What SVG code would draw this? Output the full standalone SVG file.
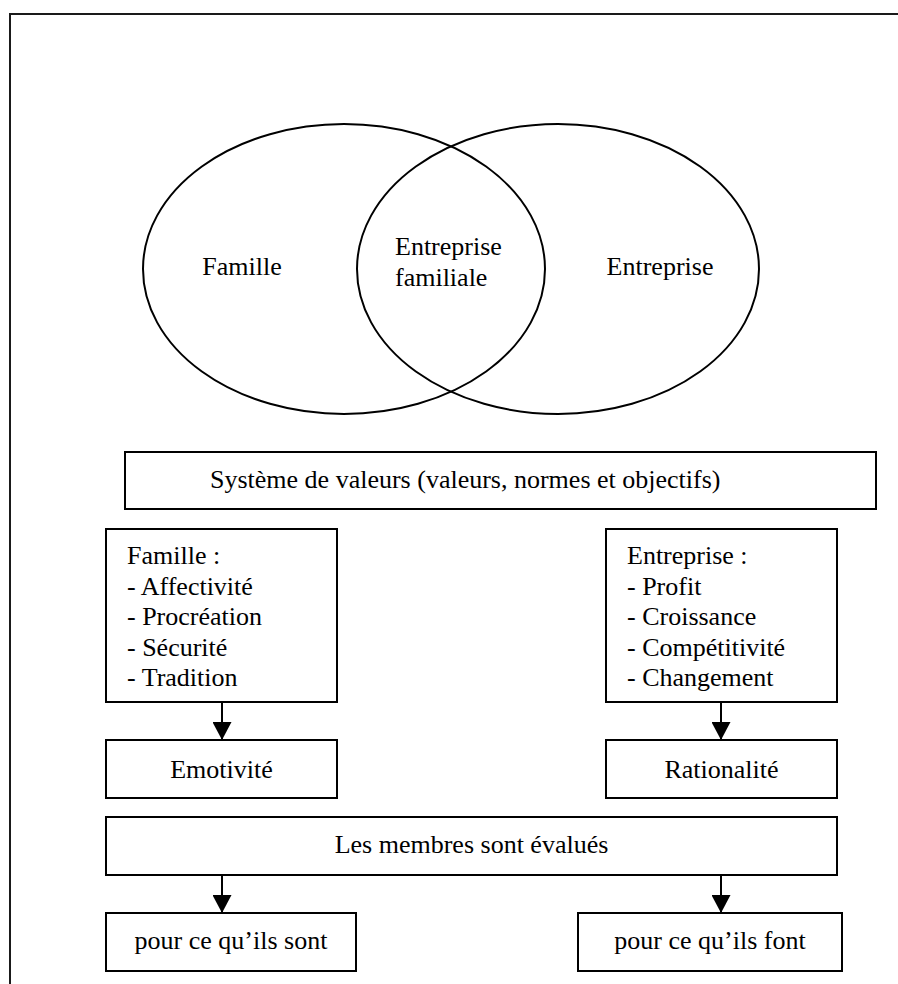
<svg xmlns="http://www.w3.org/2000/svg" width="898" height="984" viewBox="0 0 898 984">
  <style>
    .shape { fill: #ffffff; stroke: #000000; stroke-width: 2; }
    .ring { fill: none; stroke: #000000; stroke-width: 2; }
    .frame { fill: none; stroke: #1a1a1a; stroke-width: 2; }
    .wire { fill: none; stroke: #000000; stroke-width: 2; }
    .mid { text-anchor: middle; }
  </style>
  <defs>
    <marker id="head" viewBox="0 0 18 19" refX="18" refY="9.5" markerWidth="18" markerHeight="19" markerUnits="userSpaceOnUse" orient="auto">
      <path d="M0,0 L18,9.5 L0,19 Z" fill="#000000"/>
    </marker>
  </defs>
  <rect width="898" height="984" fill="#ffffff"/>
  <!-- page frame (open to the right and bottom) -->
  <path class="frame" d="M10,984 V14 H898"/>

  <g font-family="'Liberation Serif', 'DejaVu Serif', serif" font-size="26" fill="#000000">
    <!-- Venn diagram -->
    <g id="venn">
      <ellipse class="ring" cx="344" cy="269" rx="201" ry="145"/>
      <ellipse class="ring" cx="558" cy="269" rx="201" ry="145"/>
      <text x="242" y="275" class="mid">Famille</text>
      <text x="395" y="255">Entreprise</text>
      <text x="395" y="286">familiale</text>
      <text x="660" y="275" class="mid">Entreprise</text>
    </g>

    <g id="systeme">
      <rect class="shape" x="125" y="452" width="751" height="57"/>
      <text x="210" y="488">Système de valeurs (valeurs, normes et objectifs)</text>
    </g>

    <g id="famille">
      <rect class="shape" x="106" y="529" width="231" height="173"/>
      <text x="127" y="564">Famille :</text>
      <text x="127" y="594.5">- Affectivité</text>
      <text x="127" y="625">- Procréation</text>
      <text x="127" y="655.5">- Sécurité</text>
      <text x="127" y="686">- Tradition</text>
    </g>

    <g id="entreprise">
      <rect class="shape" x="606" y="529" width="231" height="173"/>
      <text x="627" y="564">Entreprise :</text>
      <text x="627" y="594.5">- Profit</text>
      <text x="627" y="625">- Croissance</text>
      <text x="627" y="655.5">- Compétitivité</text>
      <text x="627" y="686">- Changement</text>
    </g>

    <g id="emotivite">
      <rect class="shape" x="106" y="740" width="231" height="58"/>
      <text x="221.5" y="778" class="mid">Emotivité</text>
    </g>

    <g id="rationalite">
      <rect class="shape" x="606" y="740" width="231" height="58"/>
      <text x="721.5" y="778" class="mid">Rationalité</text>
    </g>

    <g id="membres">
      <rect class="shape" x="106" y="817" width="731" height="58"/>
      <text x="471.5" y="853" class="mid">Les membres sont évalués</text>
    </g>

    <g id="sont">
      <rect class="shape" x="106" y="913" width="250" height="58"/>
      <text x="231" y="949" class="mid">pour ce qu’ils sont</text>
    </g>

    <g id="font">
      <rect class="shape" x="578" y="913" width="264" height="58"/>
      <text x="710" y="949" class="mid">pour ce qu’ils font</text>
    </g>
  </g>

  <g id="connectors">
    <line class="wire" x1="222" y1="702" x2="222" y2="740" marker-end="url(#head)"/>
    <line class="wire" x1="721" y1="702" x2="721" y2="740" marker-end="url(#head)"/>
    <line class="wire" x1="222" y1="875" x2="222" y2="913" marker-end="url(#head)"/>
    <line class="wire" x1="721" y1="875" x2="721" y2="913" marker-end="url(#head)"/>
  </g>
</svg>
